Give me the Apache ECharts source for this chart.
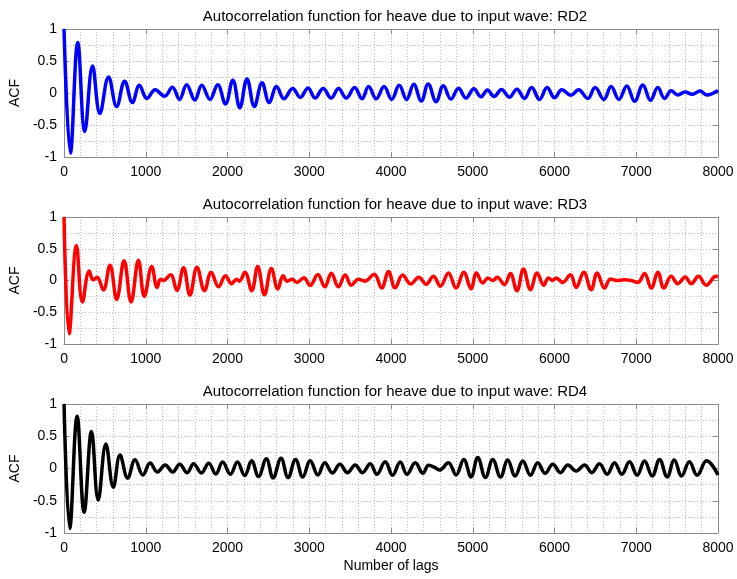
<!DOCTYPE html>
<html>
<head>
<meta charset="utf-8">
<title>Autocorrelation function for heave</title>
<script src="https://cdn.jsdelivr.net/npm/echarts@6/dist/echarts.min.js"></script>
<style>
  html, body { margin: 0; padding: 0; background: #fff; }
  #chart { width: 737px; height: 579px; }
</style>
</head>
<body>
<div id="chart"></div>
<script>
// peaks and troughs: lag -> ACF
const lagsRD2 = [0,78,168,254,349,439,545,644,742,836, 922,1013,1115,1230,1326,1412,1500,1600,1685,1785,
  1880,1975,2065,2150,2238,2328,2422,2510,2600,2690, 2797,2890,2985,3071,3170,3268,3358,3452,3555,3645,
  3726,3819,3915,4008,4100,4190,4278,4370,4455,4552, 4640,4733,4826,4916,5014,5100,5180,5260,5352,5448,
  5540,5632,5720,5816,5910,6000,6090,6203,6293,6407, 6497,6603,6693,6787,6885,6979,7081,7174,7264,7346,
  7427,7509,7596,7686,7780,7862,8000]
const acfRD2 = [1,-0.94,0.79,-0.6,0.42,-0.32,0.25,-0.21,0.185,-0.15, 0.12,-0.085,0.05,-0.05,0.09,-0.1,0.13,-0.11,0.12,-0.1,
  0.13,-0.17,0.2,-0.23,0.22,-0.21,0.16,-0.15,0.1,-0.09, 0.07,-0.07,0.08,-0.08,0.07,-0.08,0.07,-0.08,0.085,-0.09,
  0.1,-0.09,0.1,-0.1,0.12,-0.1,0.135,-0.125,0.14,-0.135, 0.115,-0.095,0.075,-0.08,0.065,-0.06,0.045,-0.055,0.055,-0.065,
  0.06,-0.085,0.085,-0.1,0.085,-0.075,0.05,-0.035,0.05,-0.085, 0.085,-0.1,0.1,-0.1,0.11,-0.13,0.125,-0.115,0.085,-0.085,
  0.035,-0.03,0.015,-0.02,0.03,-0.03,0.04]

const lagsRD3 = [0,62,152,225,308,357,406,480,562,644, 734,820,910,982,1073,1138,1180,1215,1303,1380,
  1462,1540,1626,1718,1800,1890,1975,2050,2112,2145, 2213,2296,2369,2452,2536,2615,2680,2730,2790,2850,
  2935,3010,3105,3190,3270,3355,3440,3515,3600,3680, 3795,3885,3970,4050,4142,4240,4340,4430,4518,4604,
  4702,4796,4890,4979,5045,5122,5183,5245,5298,5388, 5460,5540,5620,5706,5787,5869,5926,5975,6020,6100,
  6195,6265,6358,6448,6522,6611,6685,6760,6850,6940, 7020,7101,7183,7264,7338,7427,7509,7599,7672,7762,
  7856,7975,8000]
const acfRD3 = [1,-0.84,0.55,-0.34,0.15,0.01,0.05,-0.15,0.24,-0.3, 0.31,-0.34,0.32,-0.25,0.22,-0.11,0.02,0.0,0.09,-0.155,
  0.2,-0.23,0.21,-0.16,0.13,-0.1,0.075,-0.05,0.02,-0.01, 0.13,-0.16,0.22,-0.225,0.19,-0.135,0.075,-0.01,0.02,-0.03,
  0.045,-0.08,0.095,-0.1,0.115,-0.1,0.085,-0.075,0.02,-0.01, 0.1,-0.12,0.14,-0.115,0.085,-0.055,0.05,-0.06,0.065,-0.09,
  0.12,-0.12,0.13,-0.13,0.12,-0.04,0.04,0.0,0.05,-0.065, 0.11,-0.16,0.18,-0.145,0.12,-0.075,0.04,0.0,0.04,-0.03,
  0.09,-0.11,0.13,-0.145,0.12,-0.12,0.025,0.0,0.01,0.0, -0.03,0.11,-0.12,0.13,-0.12,0.065,-0.05,0.055,-0.05,0.065,
  -0.075,0.065,0.06]

const lagsRD4 = [0,70,160,246,336,418,512,603,685,779, 869,965,1053,1143,1237,1329,1415,1507,1585,1680,
  1770,1857,1940,2035,2121,2210,2295,2379,2475,2557, 2655,2740,2833,2920,3012,3105,3190,3283,3375,3467,
  3562,3650,3746,3827,3929,4019,4113,4195,4297,4390, 4460,4530,4592,4702,4796,4890,4979,5061,5155,5245,
  5339,5428,5518,5612,5706,5795,5885,5979,6073,6163, 6265,6367,6456,6550,6644,6734,6824,6917,7011,7101,
  7195,7285,7378,7465,7555,7650,7745,7860,8000]
const acfRD4 = [1,-0.93,0.81,-0.68,0.575,-0.49,0.38,-0.29,0.21,-0.15, 0.135,-0.1,0.085,-0.055,0.055,-0.055,0.065,-0.065,0.075,-0.07,
  0.08,-0.085,0.1,-0.09,0.1,-0.11,0.12,-0.125,0.15,-0.145, 0.16,-0.14,0.14,-0.13,0.12,-0.1,0.09,-0.07,0.065,-0.065,
  0.055,-0.065,0.075,-0.09,0.105,-0.105,0.1,-0.09,0.09,-0.075, 0.05,0.02,-0.025,0.09,-0.1,0.14,-0.13,0.17,-0.14,0.14,
  -0.13,0.13,-0.115,0.115,-0.105,0.09,-0.075,0.065,-0.065,0.055, -0.04,0.055,-0.065,0.075,-0.09,0.09,-0.09,0.105,-0.105,0.115,
  -0.115,0.14,-0.13,0.13,-0.115,0.105,-0.105,0.12,-0.1]

const titles = [
  'Autocorrelation function for heave due to input wave: RD2',
  'Autocorrelation function for heave due to input wave: RD3',
  'Autocorrelation function for heave due to input wave: RD4'
]
const colors = ['#0000ff', '#ff0000', '#000000']
const panels = [[lagsRD2, acfRD2], [lagsRD3, acfRD3], [lagsRD4, acfRD4]]

const font = 'Liberation Sans, Arial, Helvetica, sans-serif'
const boxColor = '#8a8a8a'
const gridLine = { show: true, lineStyle: { color: '#b8b8b8', type: [1, 2], width: 1 } }

const gridPos = [
  { left: 64, top: 29, width: 654, height: 128 },
  { left: 64, top: 217, width: 654, height: 127 },
  { left: 64, top: 404, width: 654, height: 129 }
]

const chart = echarts.init(document.getElementById('chart'), null, { renderer: 'canvas' })

const xAxes = []
const yAxes = []
const series = []
gridPos.forEach((g, i) => {
  // bottom axis with labels and the dotted grid
  xAxes.push({
    type: 'value', gridIndex: i, min: 0, max: 8000, interval: 1000,
    axisLine: { show: true, onZero: false, lineStyle: { color: boxColor } },
    axisTick: { show: true, inside: true, length: 5, lineStyle: { color: boxColor } },
    axisLabel: { color: '#000', fontSize: 14, fontFamily: font, margin: 8, formatter: v => String(v) },
    splitLine: gridLine,
    minorTick: { show: false, splitNumber: 5 },
    minorSplitLine: gridLine,
    name: i === 2 ? 'Number of lags' : '',
    nameLocation: 'middle', nameGap: 26,
    nameTextStyle: { color: '#000', fontSize: 14, fontFamily: font }
  })
  // top axis, ticks only
  xAxes.push({
    type: 'value', gridIndex: i, position: 'top', min: 0, max: 8000, interval: 1000,
    axisLine: { show: true, onZero: false, lineStyle: { color: boxColor } },
    axisTick: { show: true, inside: true, length: 5, lineStyle: { color: boxColor } },
    axisLabel: { show: false }, splitLine: { show: false }
  })
  yAxes.push({
    type: 'value', gridIndex: i, min: -1, max: 1, interval: 0.5,
    axisLine: { show: true, onZero: false, lineStyle: { color: boxColor } },
    axisTick: { show: true, inside: true, length: 5, lineStyle: { color: boxColor } },
    axisLabel: { color: '#000', fontSize: 14, fontFamily: font, margin: 7 },
    splitLine: gridLine,
    minorTick: { show: false, splitNumber: 2 },
    minorSplitLine: gridLine,
    name: 'ACF', nameLocation: 'middle', nameGap: 33,
    nameTextStyle: { color: '#000', fontSize: 14, fontFamily: font }
  })
  yAxes.push({
    type: 'value', gridIndex: i, position: 'right', min: -1, max: 1, interval: 0.5,
    axisLine: { show: true, onZero: false, lineStyle: { color: boxColor } },
    axisTick: { show: true, inside: true, length: 5, lineStyle: { color: boxColor } },
    axisLabel: { show: false }, splitLine: { show: false }
  })
  const lags = panels[i][0]
  const acf = panels[i][1]
  series.push({
    type: 'line', xAxisIndex: i * 2, yAxisIndex: i * 2,
    data: lags.map((x, k) => [x, acf[k]]),
    smooth: 0.4, showSymbol: false, symbol: 'none',
    lineStyle: { color: colors[i], width: 3.5 },
    itemStyle: { color: colors[i] },
    animation: false
  })
})

chart.setOption({
  backgroundColor: '#fff',
  animation: false,
  title: titles.map((t, i) => ({
    text: t, left: 390, textAlign: 'center', top: gridPos[i].top - 25,
    textStyle: { color: '#000', fontSize: 15, fontWeight: 'normal', fontFamily: font }
  })),
  grid: gridPos,
  xAxis: xAxes,
  yAxis: yAxes,
  series: series
})
</script>
</body>
</html>
